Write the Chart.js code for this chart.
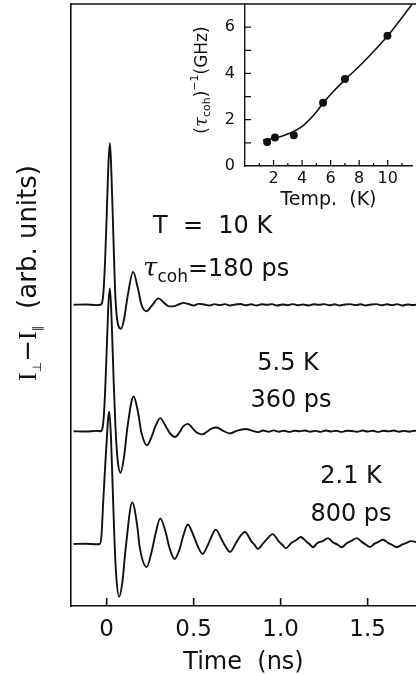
<!DOCTYPE html>
<html>
<head>
<meta charset="utf-8">
<script src="https://cdn.jsdelivr.net/npm/chart.js"></script>
<style>
  body { margin: 0; background: #fff; }
  #wrap { position: relative; width: 416px; height: 674px; }
  #main { display: block; }
  #inset { position: absolute; left: 180px; top: 0; }
</style>
</head>
<body>
<div id="wrap">
  <canvas id="main" width="416" height="674"></canvas>
  <canvas id="inset" width="236" height="212"></canvas>
</div>
<script>
// ---- data: main panel, time in ns, signal in arb. units (own baseline = 0) ----
const xTicks = [0, 0.5, 1, 1.5];
const traceOffset = { t10: 14.95, t55: 7.05, t21: 0 };

const trace10K = [
  [-0.19, 0], [-0.12, 0.02], [-0.06, -0.02], [-0.035, 0], [-0.02, 0.6], [-0.01, 2.5], [0, 5.5],
  [0.01, 8.8], [0.019, 10.1], [0.028, 8.0], [0.038, 4.5], [0.048, 1.0], [0.06, -0.9], [0.082, -1.5],
  [0.1, -0.9], [0.12, 0.5], [0.152, 2.06], [0.18, 1.0], [0.2, 0.0], [0.228, -0.4], [0.26, -0.05],
  [0.298, 0.4], [0.33, 0.12], [0.36, -0.1], [0.39, -0.08], [0.42, 0.05], [0.44, 0.12], [0.47, 0.05],
  [0.5, -0.05], [0.53, 0.06], [0.56, 0.02], [0.59, -0.04], [0.62, 0.04], [0.65, -0.02], [0.68, 0.04],
  [0.71, -0.04], [0.74, 0.02], [0.77, 0.05], [0.8, -0.03], [0.83, 0.03], [0.86, -0.04], [0.89, 0.03],
  [0.92, 0.0], [0.95, 0.04], [0.98, -0.04], [1.01, 0.02], [1.04, -0.02], [1.07, 0.04], [1.1, -0.03],
  [1.13, 0.02], [1.16, -0.04], [1.19, 0.03], [1.22, 0.0], [1.25, 0.04], [1.28, -0.03], [1.31, 0.03],
  [1.34, -0.04], [1.37, 0.02], [1.4, 0.04], [1.43, -0.02], [1.46, 0.03], [1.49, -0.04], [1.52, 0.02],
  [1.55, 0.04], [1.58, -0.03], [1.61, 0.03], [1.64, -0.02], [1.67, 0.04], [1.7, -0.04], [1.73, 0.02],
  [1.76, -0.01], [1.79, 0.02]
];

const trace55K = [
  [-0.19, 0], [-0.12, -0.02], [-0.06, 0.02], [-0.035, 0], [-0.02, 0.5], [-0.01, 2.2], [0, 5.0],
  [0.01, 7.9], [0.019, 8.92], [0.03, 6.5], [0.04, 3.2], [0.05, 0.4], [0.062, -1.7], [0.08, -2.6],
  [0.1, -1.6], [0.12, 0.3], [0.155, 2.17], [0.18, 1.2], [0.2, -0.1], [0.232, -0.88], [0.26, -0.3],
  [0.28, 0.3], [0.308, 0.82], [0.34, 0.3], [0.365, -0.15], [0.393, -0.36], [0.42, -0.05], [0.44, 0.3],
  [0.467, 0.46], [0.5, 0.1], [0.52, -0.1], [0.548, -0.2], [0.58, 0.0], [0.6, 0.15], [0.632, 0.23],
  [0.67, 0.02], [0.709, -0.14], [0.75, 0.04], [0.8, 0.14], [0.84, 0.02], [0.87, -0.06], [0.9, 0.04],
  [0.93, -0.03], [0.96, 0.05], [0.99, -0.03], [1.02, 0.03], [1.05, -0.04], [1.08, 0.03], [1.11, 0.0],
  [1.14, 0.04], [1.17, -0.03], [1.2, 0.02], [1.23, -0.04], [1.26, 0.04], [1.29, -0.02], [1.32, 0.03],
  [1.35, -0.04], [1.38, 0.03], [1.41, 0.01], [1.44, -0.03], [1.47, 0.04], [1.5, -0.02], [1.53, 0.03],
  [1.56, -0.04], [1.59, 0.03], [1.62, -0.01], [1.65, 0.04], [1.68, -0.03], [1.71, 0.02], [1.74, -0.03],
  [1.77, 0.03], [1.79, 0.0]
];

const trace21K = [
  [-0.19, 0], [-0.12, 0.02], [-0.06, -0.02], [-0.04, 0], [-0.03, 0.5], [-0.02, 2.6], [-0.01, 4.6],
  [0, 6.4], [0.008, 7.8], [0.015, 8.27], [0.025, 6.6], [0.035, 3.4], [0.045, 0.2], [0.055, -2.0],
  [0.072, -3.3], [0.09, -2.4], [0.11, -0.2], [0.147, 2.6], [0.175, 1.2], [0.19, -0.2], [0.23, -1.44],
  [0.26, -0.4], [0.28, 0.6], [0.308, 1.6], [0.34, 0.7], [0.36, -0.2], [0.39, -0.94], [0.42, -0.3],
  [0.44, 0.5], [0.466, 1.22], [0.5, 0.5], [0.52, -0.05], [0.552, -0.62], [0.58, -0.1], [0.6, 0.4],
  [0.627, 0.9], [0.66, 0.3], [0.68, -0.1], [0.709, -0.5], [0.74, 0.0], [0.765, 0.45], [0.795, 0.75],
  [0.83, 0.2], [0.85, -0.05], [0.87, -0.31], [0.9, 0.05], [0.925, 0.35], [0.954, 0.62], [0.99, 0.15],
  [1.01, -0.05], [1.03, -0.27], [1.06, 0.05], [1.09, 0.25], [1.115, 0.44], [1.15, 0.12], [1.17, -0.05],
  [1.186, -0.2], [1.21, 0.05], [1.245, 0.2], [1.272, 0.37], [1.3, 0.1], [1.325, -0.02], [1.35, -0.2],
  [1.38, 0.05], [1.41, 0.22], [1.437, 0.37], [1.47, 0.1], [1.49, -0.04], [1.513, -0.19], [1.54, 0.02],
  [1.565, 0.15], [1.588, 0.27], [1.62, 0.05], [1.64, -0.05], [1.667, -0.2], [1.7, -0.03], [1.72, 0.06],
  [1.75, 0.18], [1.78, 0.12]
];

// ---- data: inset, temperature (K) vs inverse coherence time (GHz) ----
const insetXTicks = [2, 4, 6, 8, 10];
const insetXMinor = [1, 3, 5, 7, 9, 11];
const insetYTicks = [0, 2, 4, 6];
const insetYMinor = [1, 3, 5];
const measTemp = [1.55, 2.1, 3.42, 5.47, 7.0, 9.98];
const measRate = [1.04, 1.23, 1.33, 2.73, 3.76, 5.63];
const fitTemp = [1.25, 2, 3, 4.1, 5, 5.47, 6.16, 7, 8.2, 10, 11.4, 11.7];
const fitRate = [1.11, 1.19, 1.38, 1.76, 2.33, 2.72, 3.2, 3.72, 4.43, 5.63, 6.74, 6.98];

const ink = '#111';
const sans = 'DejaVu Sans';
Chart.defaults.font.family = sans;
Chart.defaults.color = ink;

function drawRuns(ctx, runs, x, y, align) {
  let w = 0;
  runs.forEach((r) => { ctx.font = r.font; w += ctx.measureText(r.text).width; });
  let cx = align === 'center' ? x - w / 2 : x;
  runs.forEach((r) => {
    ctx.font = r.font;
    ctx.fillText(r.text, cx, y + (r.dy || 0));
    cx += ctx.measureText(r.text).width;
  });
}

function inwardTicks(ctx, scale, values, len, horizontal, edge) {
  values.forEach((v) => {
    const p = scale.getPixelForValue(v);
    if (horizontal) { ctx.moveTo(p, edge); ctx.lineTo(p, edge - len); }
    else { ctx.moveTo(edge, p); ctx.lineTo(edge + len, p); }
  });
}

// no automatic label margins, the frame sits where we put it
function noPad(s) {
  s.paddingTop = 0; s.paddingBottom = 0; s.paddingLeft = 0; s.paddingRight = 0;
}

const series = (pts, off) => pts.map(([t, v]) => ({ x: t, y: v + off }));

const traceStyle = {
  borderColor: ink,
  borderWidth: 1.9,
  pointRadius: 0,
  cubicInterpolationMode: 'monotone',
  fill: false,
};

const mainDecor = {
  id: 'mainDecor',
  afterDraw(chart) {
    const { ctx, chartArea: a, scales: { x } } = chart;
    ctx.save();
    ctx.strokeStyle = ink;
    ctx.lineWidth = 1.6;
    ctx.beginPath();
    ctx.moveTo(a.left, a.top);
    ctx.lineTo(a.right, a.top);
    inwardTicks(ctx, x, xTicks, 8, true, a.bottom);
    ctx.stroke();

    ctx.fillStyle = ink;
    ctx.textAlign = 'left';
    ctx.textBaseline = 'alphabetic';
    const big = `24px ${sans}`;
    drawRuns(ctx, [{ text: 'T  =  10 K', font: big }], 153, 233, 'left');
    drawRuns(ctx, [
      { text: 'τ', font: 'italic 26px DejaVu Serif' },
      { text: 'coh', font: `17px ${sans}`, dy: 6 },
      { text: '=180 ps', font: big },
    ], 143, 276, 'left');
    drawRuns(ctx, [{ text: '5.5 K', font: big }], 288, 370, 'center');
    drawRuns(ctx, [{ text: '360 ps', font: big }], 291, 407, 'center');
    drawRuns(ctx, [{ text: '2.1 K', font: big }], 351, 483, 'center');
    drawRuns(ctx, [{ text: '800 ps', font: big }], 351, 521, 'center');

    ctx.translate(36, 273);
    ctx.rotate(-Math.PI / 2);
    drawRuns(ctx, [
      { text: 'I', font: '26px Liberation Serif' },
      { text: '⊥', font: `12px ${sans}`, dy: 5 },
      { text: '−', font: `26px ${sans}` },
      { text: 'I', font: '26px Liberation Serif' },
      { text: '∥', font: `12px ${sans}`, dy: 5 },
      { text: '  (arb. units)', font: `26px ${sans}` },
    ], 0, 0, 'center');
    ctx.restore();
  },
};

new Chart(document.getElementById('main'), {
  type: 'line',
  data: {
    datasets: [
      { ...traceStyle, label: '10 K', data: series(trace10K, traceOffset.t10) },
      { ...traceStyle, label: '5.5 K', data: series(trace55K, traceOffset.t55) },
      { ...traceStyle, label: '2.1 K', data: series(trace21K, traceOffset.t21) },
    ],
  },
  options: {
    responsive: false,
    animation: false,
    devicePixelRatio: 1,
    layout: { padding: { top: 4, right: 0, left: 0, bottom: 0 } },
    plugins: { legend: { display: false }, tooltip: { enabled: false } },
    scales: {
      x: {
        type: 'linear',
        min: -0.205,
        max: 1.778,
        afterBuildTicks: (s) => { s.ticks = xTicks.map((v) => ({ value: v })); },
        afterFit: (s) => { s.height = 68; noPad(s); },
        grid: { display: false, drawTicks: false },
        border: { display: true, color: ink, width: 1.6 },
        ticks: { font: { size: 23 }, padding: 10, maxRotation: 0 },
        title: { display: true, text: 'Time  (ns)', font: { size: 24 }, padding: { top: 0, bottom: -3 } },
      },
      y: {
        type: 'linear',
        min: -3.875,
        max: 33.75,
        afterFit: (s) => { s.width = 71; noPad(s); },
        grid: { display: false, drawTicks: false },
        border: { display: true, color: ink, width: 1.6 },
        ticks: { display: false },
      },
    },
  },
  plugins: [mainDecor],
});

const insetDecor = {
  id: 'insetDecor',
  afterDraw(chart) {
    const { ctx, chartArea: a, scales: { x, y } } = chart;
    ctx.save();
    ctx.strokeStyle = ink;
    ctx.lineWidth = 1.3;
    ctx.beginPath();
    inwardTicks(ctx, x, insetXTicks, 6, true, a.bottom);
    inwardTicks(ctx, x, insetXMinor, 3, true, a.bottom);
    inwardTicks(ctx, y, insetYTicks.slice(1), 6, false, a.left);
    inwardTicks(ctx, y, insetYMinor, 6, false, a.left);
    ctx.stroke();

    ctx.fillStyle = ink;
    ctx.textAlign = 'left';
    ctx.textBaseline = 'alphabetic';
    ctx.translate(27, 80);
    ctx.rotate(-Math.PI / 2);
    drawRuns(ctx, [
      { text: '(', font: `17px ${sans}` },
      { text: 'τ', font: 'italic 18px DejaVu Serif' },
      { text: 'coh', font: `11px ${sans}`, dy: 3 },
      { text: ')', font: `17px ${sans}` },
      { text: '−1', font: `11px ${sans}`, dy: -9 },
      { text: '(GHz)', font: `17px ${sans}` },
    ], 0, 0, 'center');
    ctx.restore();
  },
};

new Chart(document.getElementById('inset'), {
  type: 'scatter',
  data: {
    datasets: [
      {
        label: 'measured',
        data: measTemp.map((t, i) => ({ x: t, y: measRate[i] })),
        pointRadius: 4,
        pointBackgroundColor: ink,
        pointBorderWidth: 0,
        showLine: false,
      },
      {
        label: 'fit',
        type: 'line',
        data: fitTemp.map((t, i) => ({ x: t, y: fitRate[i] })),
        borderColor: ink,
        borderWidth: 1.6,
        pointRadius: 0,
        cubicInterpolationMode: 'monotone',
        fill: false,
      },
    ],
  },
  options: {
    responsive: false,
    animation: false,
    devicePixelRatio: 1,
    layout: { padding: { top: 4, right: 0, left: 0, bottom: 0 } },
    plugins: { legend: { display: false }, tooltip: { enabled: false } },
    scales: {
      x: {
        type: 'linear',
        min: 0,
        max: 11.7,
        afterBuildTicks: (s) => { s.ticks = insetXTicks.map((v) => ({ value: v })); },
        afterFit: (s) => { s.height = 46; noPad(s); },
        grid: { display: false, drawTicks: false },
        border: { display: true, color: ink, width: 1.4 },
        ticks: { font: { size: 16 }, padding: 3, maxRotation: 0 },
        title: { display: true, text: 'Temp.  (K)', font: { size: 19 }, padding: { top: 0, bottom: 1 } },
      },
      y: {
        type: 'linear',
        min: 0,
        max: 7,
        afterBuildTicks: (s) => { s.ticks = insetYTicks.map((v) => ({ value: v })); },
        afterFit: (s) => { s.width = 65; noPad(s); },
        grid: { display: false, drawTicks: false },
        border: { display: true, color: ink, width: 1.4 },
        ticks: { font: { size: 16 }, padding: 10 },
      },
    },
  },
  plugins: [insetDecor],
});
</script>
</body>
</html>
